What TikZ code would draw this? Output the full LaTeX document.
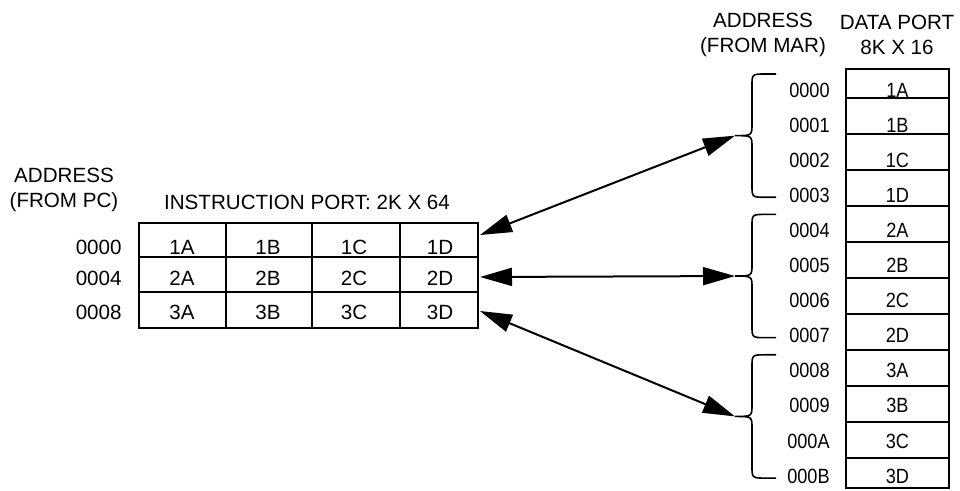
\documentclass[tikz,border=0pt]{standalone}
\usepackage{fontspec}
\setmainfont{Liberation Sans}
\newfontfamily\narrowsans[FakeStretch=0.88]{Liberation Sans}
\usetikzlibrary{arrows.meta}

\tikzset{
	lbl/.style={inner sep=0pt, font=\fontsize{10.3}{12.5}\selectfont},
	addr/.style={lbl, anchor=east},
	daddr/.style={addr, font=\narrowsans\fontsize{10.3}{12.5}\selectfont},
	dcell/.style={lbl, font=\narrowsans\fontsize{10.3}{12.5}\selectfont},
	memline/.style={line width=1pt},
	brace/.style={line width=0.8pt},
	link/.style={line width=1pt, {Triangle[length=16pt,width=9pt]}-{Triangle[length=16pt,width=9pt]}},
}

\begin{document}
\begin{tikzpicture}[x=0.5pt, y=-0.5pt]
	\useasboundingbox (0,0) rectangle (960,491);
	
	% instruction port
	\node[lbl, align=center] (pcaddr) at (64,190) {ADDRESS\\(FROM PC)};
	\node[lbl] (iport) at (307,202) {INSTRUCTION PORT: 2K X 64};
	\draw[memline] (139,223) rectangle (478,328);
	\foreach \y in {257,292} \draw[memline] (139,\y) -- (478,\y);
	\foreach \x in {226,312,400} \draw[memline] (\x,223) -- (\x,328);
	\foreach \r/\a/\y/\e in {1/0000/247/235, 2/0004/278/277, 3/0008/312/311}{
		\node[addr] (ia\r) at (122,\y) {\a};
		\coordinate (ie\r) at (480,\e);
		\foreach \c/\x in {A/182, B/268, C/354, D/440}
			\node[lbl] (i\r\c) at (\x,\y) {\r\c};
	}
	
	% data port
	\node[lbl, align=center] (maraddr) at (763,34.5) {ADDRESS\\(FROM MAR)};
	\node[lbl, align=center] (dport) at (897,34.5) {DATA PORT\\8K X 16};
	\draw[memline] (846,69) rectangle (949,488);
	\foreach \y in {98,134,...,458} \draw[memline] (846,\y) -- (949,\y);
	\foreach \a/\t [count=\k from 0] in {0000/1A, 0001/1B, 0002/1C, 0003/1D,
			0004/2A, 0005/2B, 0006/2C, 0007/2D, 0008/3A, 0009/3B, 000A/3C, 000B/3D}{
		\node[daddr] (da\k) at (830,{90+35.1*\k}) {\a};
		\node[dcell] (d\t) at (897.5,{90+35.1*\k}) {\t};
	}
	
	% braces over each group of four words
	\foreach \k in {0,1,2}{
		\pgfmathsetmacro\btop{90+35.1*4*\k-16}
		\pgfmathsetmacro\bbot{90+35.1*(4*\k+3)+2}
		\pgfmathsetmacro\bmid{(\btop+\bbot)/2}
		\draw[brace] (776,\btop) -- (766,\btop) .. controls (752,\btop) .. (752,\btop+12)
			-- (752,\bmid-12) .. controls (752,\bmid) .. (735,\bmid)
			.. controls (752,\bmid) .. (752,\bmid+12) -- (752,\bbot-12)
			.. controls (752,\bbot) .. (766,\bbot) -- (776,\bbot);
		\coordinate (b\k) at (735,\bmid);
	}
	
	\draw[link] (ie1) -- (b0);
	\draw[link] (ie2) -- (b1);
	\draw[link] (ie3) -- (b2);
\end{tikzpicture}
\end{document}
